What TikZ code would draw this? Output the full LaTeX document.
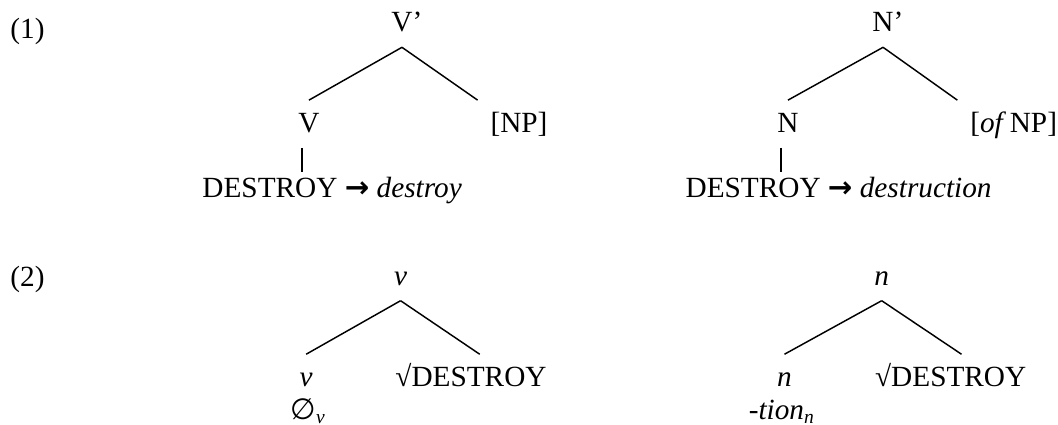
\documentclass[tikz,border=0pt]{standalone}
\usepackage{fontspec}
\setmainfont{Liberation Serif}
\newfontfamily\symfont{DejaVu Sans}
\usetikzlibrary{positioning}
\tikzset{
  every picture/.style={font=\fontsize{12pt}{14pt}\selectfont, line width=0.6pt},
  cat/.style={anchor=base, inner sep=5pt, text height=8pt, text depth=1pt},
  leaf/.style={cat, anchor=base west},
  exnum/.style={anchor=base west, inner sep=0pt},
  stem/.style={shorten >=-2.5pt},
}
\newcommand{\rarr}{{\symfont\bfseries →}}

\begin{document}
\begin{tikzpicture}
  \useasboundingbox (0,0) rectangle (15.24,-6.12);
  % (1): phrase-structure trees
  \node[exnum] (ex1) at (0.14,-0.55) {(1)};
  \node[cat] (vbar) at (5.79,-0.46) {V\rlap{'}};
  \node[cat] (v1) at (4.45,-1.91) {V};
  \node[leaf] (np1) at (6.88,-1.91) {[NP]};
  \node[leaf] (dst1) at (2.73,-2.85) {DESTROY \rarr\ \textit{destroy}};
  \draw (vbar.south) -- (v1.north);
  \draw (vbar.south) -- (np1.north west);
  \draw[stem] ([xshift=-0.1cm]v1.south) -- ([xshift=-0.1cm]v1.south |- dst1.north);
  \node[cat] (nbar) at (12.72,-0.46) {N\rlap{'}};
  \node[cat] (n1) at (11.35,-1.91) {N};
  \node[leaf] (np2) at (13.79,-1.91) {[\textit{of}\kern1.5pt NP]};
  \node[leaf] (dst2) at (9.69,-2.85) {DESTROY \rarr\ \textit{destruction}};
  \draw (nbar.south) -- (n1.north);
  \draw (nbar.south) -- (np2.north west);
  \draw[stem] ([xshift=-0.1cm]n1.south) -- ([xshift=-0.1cm]n1.south |- dst2.north);
  % (2): roots and categorizers
  \node[exnum] (ex2) at (0.14,-4.13) {(2)};
  \node[cat] (vtop) at (5.77,-4.11) {\textit{v}};
  \node[cat] (vlf) at (4.41,-5.57) {\textit{v}};
  \node[leaf] (vroot) at (5.51,-5.57) {√DESTROY};
  \node[leaf] (vnull) at (4.00,-6.04) {{\symfont ∅}\textsubscript{\textit{v}}};
  \draw (vtop.south) -- (vlf.north);
  \draw (vtop.south) -- ([xshift=1.40cm]vroot.north west);
  \node[cat] (ntop) at (12.70,-4.11) {\textit{n}};
  \node[cat] (nlf) at (11.30,-5.57) {\textit{n}};
  \node[leaf] (nroot) at (12.42,-5.57) {√DESTROY};
  \node[leaf] (nsuf) at (10.60,-6.04) {-\textit{tion}\textsubscript{\textit{n}}};
  \draw (ntop.south) -- (nlf.north);
  \draw (ntop.south) -- ([xshift=1.43cm]nroot.north west);
\end{tikzpicture}
\end{document}
